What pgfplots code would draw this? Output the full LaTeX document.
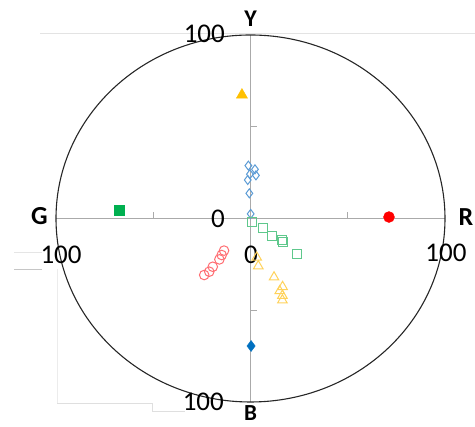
\documentclass[border=0pt]{standalone}
\usepackage{pgfplots}
\pgfplotsset{compat=1.18}
\usepackage{fontspec}
\setmainfont{Carlito}
\definecolor{axgray}{RGB}{170,170,170}
\definecolor{ltblue}{RGB}{91,155,213}
\definecolor{dkblue}{RGB}{0,112,192}
\definecolor{ltgreen}{RGB}{95,200,140}
\definecolor{dkgreen}{RGB}{0,176,80}
\definecolor{ltred}{RGB}{255,110,115}
\definecolor{dkred}{RGB}{255,0,0}
\definecolor{ltyellow}{RGB}{255,210,90}
\definecolor{dkyellow}{RGB}{255,192,0}
\begin{document}
\begin{tikzpicture}[x=1pt,y=1pt]
\useasboundingbox (0,0) rectangle (475,427);
% faint frame remnants
\draw[gray!22, line width=0.8pt] (40,394) -- (475,394);
\draw[gray!20, line width=0.8pt] (14,175) -- (42,175);
\draw[gray!45, line width=0.8pt] (14,158) -- (42,158);
\draw[gray!15, line width=0.8pt] (57,158) -- (57,24);
\draw[gray!25, line width=0.8pt] (57,24) -- (152,24) -- (152,16) -- (185,16);
\begin{axis}[at={(56pt,25pt)}, anchor=south west, scale only axis,
  width=389pt, height=367pt,
  xmin=-100, xmax=100, ymin=-100, ymax=100,
  axis lines=none, clip=false]
% axes
\draw[axgray, line width=1.3pt] (axis cs:-100,0) -- (axis cs:100,0);
\draw[axgray, line width=1.3pt] (axis cs:0,-100) -- (axis cs:0,100);
\draw[axgray, line width=1pt] (axis cs:50,0) -- ++(0pt,6pt);
\draw[axgray, line width=1pt] (axis cs:-50,0) -- ++(0pt,6pt);
\draw[axgray, line width=1pt] (axis cs:0,50) -- ++(7pt,0pt);
\draw[axgray, line width=1pt] (axis cs:0,-50) -- ++(7pt,0pt);
% circle
\draw[black!85, line width=1.1pt] (axis cs:0,0) ellipse [x radius=100, y radius=100];
% open markers
\addplot[only marks, mark=diamond, mark size=4.5pt, mark options={draw=ltblue, line width=1pt, fill=white}]
 coordinates {(-1.1,28.8) (2.3,26.8) (-0.3,24.1) (2.8,23.5) (-1.4,21.0) (-0.6,13.7) (0.1,2.5)};
\addplot[only marks, mark=square, mark size=4.6pt, mark options={draw=ltgreen, line width=1pt, fill=white}]
 coordinates {(0.6,-1.7) (6.3,-5.3) (10.9,-9.4) (16.0,-11.7) (16.9,-13.0) (23.8,-19.3)};
\addplot[only marks, mark=o, mark size=4.8pt, mark options={draw=ltred, line width=1pt}]
 coordinates {(-13.6,-17.5) (-14.8,-19.9) (-16.0,-22.3) (-19.4,-26.3) (-21.2,-29.0) (-23.8,-30.8)};
\addplot[only marks, mark=triangle, mark size=5.5pt, mark options={draw=ltyellow, line width=1pt}]
 coordinates {(3.2,-21.2) (4.0,-25.9) (12.1,-32.0) (16.5,-37.2) (15.0,-39.5) (16.4,-42.0) (16.4,-44.5)};
% filled markers
\addplot[only marks, mark=diamond*, mark size=5.5pt, mark options={draw=dkblue, fill=dkblue}]
 coordinates {(0.3,-69.5)};
\addplot[only marks, mark=square*, mark size=5pt, mark options={draw=dkgreen, fill=dkgreen}]
 coordinates {(-67.6,4.6)};
\addplot[only marks, mark=*, mark size=5.5pt, mark options={draw=dkred, fill=dkred}]
 coordinates {(71.2,0.8)};
\addplot[only marks, mark=triangle*, mark size=6.5pt, mark options={draw=dkyellow, fill=dkyellow}]
 coordinates {(-4.4,67.3)};
% tick labels
\node[anchor=east, inner sep=0pt, font=\fontsize{27}{27}\selectfont] at (axis cs:-13.1,100.5) {100};
\node[anchor=east, inner sep=0pt, font=\fontsize{27}{27}\selectfont] at (axis cs:-13.1,-0.3) {0};
\node[anchor=east, inner sep=0pt, font=\fontsize{27}{27}\selectfont] at (axis cs:-13.6,-100) {100};
\node[inner sep=0pt, font=\fontsize{27}{27}\selectfont] at (axis cs:-97.4,-19.9) {100};
\node[inner sep=0pt, font=\fontsize{27}{27}\selectfont] at (axis cs:0.3,-19.9) {0};
\node[inner sep=0pt, font=\fontsize{27}{27}\selectfont] at (axis cs:100.5,-18.8) {100};
% direction labels
\node[inner sep=0pt, font=\bfseries\fontsize{24}{24}\selectfont] at (axis cs:0,108.7) {Y};
\node[inner sep=0pt, font=\bfseries\fontsize{23}{23}\selectfont] at (axis cs:0,-105.8) {B};
\node[inner sep=0pt, font=\bfseries\fontsize{26}{26}\selectfont] at (axis cs:-108.5,1.4) {G};
\node[inner sep=0pt, font=\bfseries\fontsize{26}{26}\selectfont] at (axis cs:110.8,1.0) {R};
\end{axis}
\end{tikzpicture}
\end{document}
